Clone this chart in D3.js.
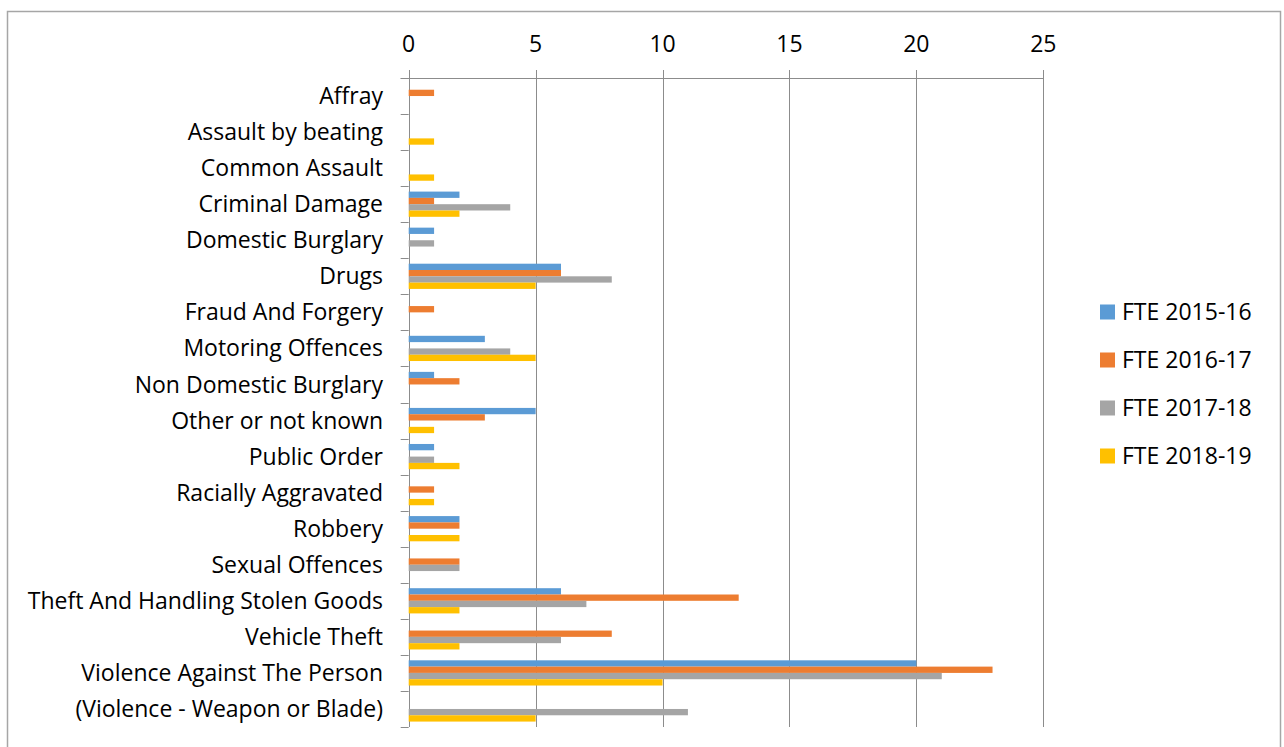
<!DOCTYPE html>
<html>
<head>
<meta charset="utf-8">
<script src="https://cdn.jsdelivr.net/npm/d3@7"></script>
<style>
  html, body { margin: 0; padding: 0; background: #fff; }
  svg { display: block; font-family: "Open Sans", "Noto Sans", sans-serif; }
</style>
</head>
<body>
<svg id="chart" width="1284" height="747"></svg>
<script>
// Offence categories (top to bottom)
const categories = [
  "Affray",
  "Assault by beating",
  "Common Assault",
  "Criminal Damage",
  "Domestic Burglary",
  "Drugs",
  "Fraud And Forgery",
  "Motoring Offences",
  "Non Domestic Burglary",
  "Other or not known",
  "Public Order",
  "Racially Aggravated",
  "Robbery",
  "Sexual Offences",
  "Theft And Handling Stolen Goods",
  "Vehicle Theft",
  "Violence Against The Person",
  "(Violence - Weapon or Blade)"
];

// Series names
const seriesNames = ["FTE 2015-16", "FTE 2016-17", "FTE 2017-18", "FTE 2018-19"];

// Values per series, aligned with categories
const fte201516 = [0, 0, 0, 2, 1, 6, 0, 3, 1, 5, 1, 0, 2, 0, 6, 0, 20, 0];
const fte201617 = [1, 0, 0, 1, 0, 6, 1, 0, 2, 3, 0, 1, 2, 2, 13, 8, 23, 0];
const fte201718 = [0, 0, 0, 4, 1, 8, 0, 4, 0, 0, 1, 0, 0, 2, 7, 6, 21, 11];
const fte201819 = [0, 1, 1, 2, 0, 5, 0, 5, 0, 1, 2, 1, 2, 0, 2, 2, 10, 5];

// Axis tick values
const xTicks = [0, 5, 10, 15, 20, 25];

const seriesValues = [fte201516, fte201617, fte201718, fte201819];
const colors = ["#5b9bd5", "#ed7d31", "#a5a5a5", "#ffc000"];

const svg = d3.select("#chart");
const fontSize = 23;

// Outer chart frame
svg.append("rect")
  .attr("x", 7.5).attr("y", 11.5)
  .attr("width", 1273).attr("height", 760)
  .attr("fill", "#fff")
  .attr("stroke", "#a6a6a6")
  .attr("stroke-width", 1.5);

const plot = { left: 408.7, right: 1043.3, top: 78, bottom: 727 };

const x = d3.scaleLinear().domain([0, 25]).range([plot.left, plot.right]);
const y = d3.scaleBand().domain(categories).range([plot.top, plot.bottom]).padding(0);
const ySub = d3.scaleBand().domain(seriesNames).range([0, y.bandwidth()])
  .paddingInner(0).paddingOuter(0.86);

const gridColor = "#8c8c8c";

// Vertical gridlines with top ticks
svg.append("g")
  .selectAll("line")
  .data(xTicks)
  .join("line")
  .attr("x1", d => Math.round(x(d)) + 0.5)
  .attr("x2", d => Math.round(x(d)) + 0.5)
  .attr("y1", plot.top - 8)
  .attr("y2", plot.bottom)
  .attr("stroke", gridColor)
  .attr("stroke-width", 1);

// Top axis line
svg.append("line")
  .attr("x1", plot.left - 8).attr("x2", Math.round(plot.right) + 0.5)
  .attr("y1", Math.round(plot.top) + 0.5).attr("y2", Math.round(plot.top) + 0.5)
  .attr("stroke", gridColor);

// Category boundary ticks on the value-zero axis
const boundaries = categories.map(c => y(c)).concat([plot.bottom]);
svg.append("g")
  .selectAll("line")
  .data(boundaries)
  .join("line")
  .attr("x1", plot.left - 8)
  .attr("x2", plot.left)
  .attr("y1", d => Math.round(d) + 0.5)
  .attr("y2", d => Math.round(d) + 0.5)
  .attr("stroke", gridColor);

// Tick labels along the top
svg.append("g")
  .selectAll("text")
  .data(xTicks)
  .join("text")
  .attr("x", d => x(d))
  .attr("y", 51.5)
  .attr("text-anchor", "middle")
  .attr("font-size", fontSize)
  .attr("fill", "#000")
  .text(d => d);

// Bars
const groups = svg.append("g")
  .selectAll("g")
  .data(categories)
  .join("g")
  .attr("transform", d => `translate(0,${y(d)})`);

groups.selectAll("rect")
  .data((c, i) => seriesNames.map((s, k) => ({ s, k, v: seriesValues[k][i] })))
  .join("rect")
  .attr("x", x(0))
  .attr("y", d => ySub(d.s))
  .attr("width", d => x(d.v) - x(0))
  .attr("height", ySub.bandwidth())
  .attr("fill", d => colors[d.k]);

// Category labels
svg.append("g")
  .selectAll("text")
  .data(categories)
  .join("text")
  .attr("x", 383)
  .attr("y", d => y(d) + y.bandwidth() / 2)
  .attr("dy", "0.35em")
  .attr("text-anchor", "end")
  .attr("font-size", fontSize)
  .attr("fill", "#000")
  .text(d => d);

// Legend
const legend = svg.append("g")
  .selectAll("g")
  .data(seriesNames)
  .join("g")
  .attr("transform", (d, i) => `translate(1100,${312 + i * 48})`);

legend.append("rect")
  .attr("x", 0).attr("y", -7.5)
  .attr("width", 15).attr("height", 15)
  .attr("fill", (d, i) => colors[i]);

legend.append("text")
  .attr("x", 22)
  .attr("y", 0)
  .attr("dy", "0.35em")
  .attr("font-size", fontSize)
  .attr("fill", "#000")
  .text(d => d);
</script>
</body>
</html>
